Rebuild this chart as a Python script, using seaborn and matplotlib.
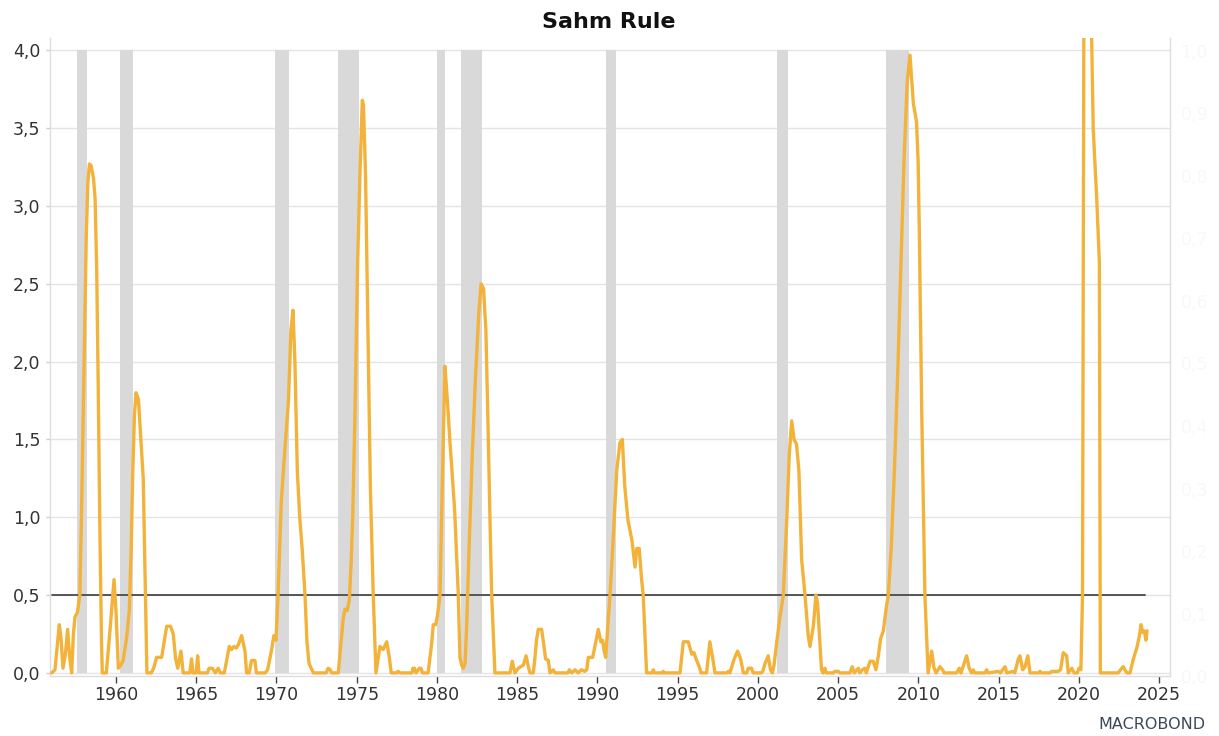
import matplotlib
matplotlib.use("Agg")
import matplotlib.pyplot as plt
import numpy as np
import pandas as pd
import seaborn as sns

# ---------------- data ----------------
years = [
    1956.0, 1956.2, 1956.47, 1956.58, 1956.7, 1956.85, 1956.99, 1957.12, 1957.24, 1957.35,
    1957.45, 1957.6, 1957.75, 1957.85, 1957.95, 1958.05, 1958.15, 1958.25, 1958.35, 1958.45,
    1958.6, 1958.7, 1958.8, 1958.9, 1959.0, 1959.1, 1959.15, 1959.4, 1959.65, 1959.88,
    1960.0, 1960.15, 1960.3, 1960.45, 1960.67, 1960.83, 1960.95, 1961.05, 1961.15, 1961.25,
    1961.4, 1961.55, 1961.7, 1961.8, 1961.93, 1962.2, 1962.35, 1962.53, 1962.85, 1963.16,
    1963.4, 1963.57, 1963.72, 1963.85, 1964.05, 1964.19, 1964.6, 1964.71, 1964.8, 1965.0,
    1965.09, 1965.17, 1965.7, 1965.8, 1966.0, 1966.2, 1966.37, 1966.5, 1966.75, 1967.06,
    1967.2, 1967.35, 1967.5, 1967.62, 1967.83, 1968.04, 1968.14, 1968.3, 1968.45, 1968.66,
    1968.75, 1969.3, 1969.45, 1969.7, 1969.84, 1969.97, 1970.1, 1970.3, 1970.5, 1970.75,
    1970.9, 1971.03, 1971.15, 1971.3, 1971.45, 1971.6, 1971.78, 1971.9, 1972.03, 1972.3,
    1973.1, 1973.22, 1973.35, 1973.44, 1973.85, 1974.16, 1974.27, 1974.41, 1974.54, 1974.65,
    1974.75, 1974.9, 1975.05, 1975.2, 1975.35, 1975.42, 1975.55, 1975.7, 1975.85, 1976.03,
    1976.2, 1976.45, 1976.65, 1976.87, 1977.03, 1977.15, 1977.5, 1977.57, 1977.7, 1978.45,
    1978.5, 1978.6, 1978.7, 1978.9, 1979.0, 1979.1, 1979.45, 1979.67, 1979.77, 1979.92,
    1980.02, 1980.19, 1980.35, 1980.5, 1980.65, 1980.8, 1981.0, 1981.1, 1981.33, 1981.43,
    1981.54, 1981.64, 1981.75, 1981.85, 1981.91, 1982.0, 1982.2, 1982.4, 1982.6, 1982.75,
    1982.9, 1983.05, 1983.2, 1983.3, 1983.41, 1983.61, 1984.55, 1984.69, 1984.86, 1985.07,
    1985.38, 1985.55, 1985.69, 1985.8, 1986.0, 1986.1, 1986.2, 1986.31, 1986.52, 1986.67,
    1986.77, 1986.94, 1987.04, 1987.25, 1987.35, 1988.15, 1988.25, 1988.4, 1988.6, 1988.8,
    1989.0, 1989.2, 1989.33, 1989.43, 1989.7, 1989.84, 1990.05, 1990.21, 1990.32, 1990.42,
    1990.51, 1990.6, 1990.78, 1991.0, 1991.2, 1991.4, 1991.55, 1991.7, 1991.9, 1992.0,
    1992.15, 1992.34, 1992.45, 1992.6, 1992.75, 1992.85, 1993.06, 1993.4, 1993.48, 1993.55,
    1994.05, 1994.1, 1994.15, 1995.14, 1995.35, 1995.66, 1995.87, 1996.01, 1996.18, 1996.34,
    1996.45, 1996.8, 1997.0, 1997.21, 1997.32, 1998.05, 1998.15, 1998.25, 1998.52, 1998.73,
    1998.92, 1999.09, 1999.3, 1999.4, 1999.6, 1999.7, 2000.2, 2000.3, 2000.44, 2000.64,
    2000.78, 2000.9, 2001.0, 2001.16, 2001.37, 2001.58, 2001.8, 2001.95, 2002.1, 2002.25,
    2002.4, 2002.55, 2002.72, 2002.93, 2003.13, 2003.24, 2003.45, 2003.61, 2003.71, 2003.86,
    2003.96, 2004.05, 2004.17, 2004.25, 2004.7, 2004.79, 2005.0, 2005.1, 2005.73, 2005.87,
    2006.0, 2006.25, 2006.35, 2006.5, 2006.66, 2006.75, 2006.98, 2007.18, 2007.35, 2007.5,
    2007.64, 2007.81, 2007.98, 2008.12, 2008.3, 2008.5, 2008.7, 2008.9, 2009.1, 2009.3,
    2009.47, 2009.68, 2009.88, 2009.98, 2010.05, 2010.2, 2010.4, 2010.6, 2010.82, 2010.97,
    2011.1, 2011.34, 2011.5, 2011.6, 2012.38, 2012.54, 2012.65, 2013.0, 2013.16, 2013.3,
    2013.41, 2013.5, 2014.15, 2014.24, 2014.35, 2014.97, 2015.1, 2015.39, 2015.5, 2015.91,
    2016.0, 2016.22, 2016.32, 2016.49, 2016.64, 2016.81, 2016.95, 2017.5, 2017.57, 2017.65,
    2018.2, 2018.3, 2018.7, 2018.85, 2019.02, 2019.23, 2019.33, 2019.55, 2019.7, 2019.9,
    2020.0, 2020.12, 2020.22, 2020.31, 2020.4, 2020.5, 2020.6, 2020.7, 2020.79, 2020.89,
    2021.1, 2021.27, 2021.33, 2022.44, 2022.59, 2022.75, 2022.92, 2023.0, 2023.18, 2023.39,
    2023.6, 2023.77, 2023.86, 2023.98, 2024.07, 2024.17, 2024.24,
]
sahm = [
    0.0, 0.02, 0.31, 0.22, 0.03, 0.12, 0.28, 0.1, 0.0, 0.25,
    0.36, 0.39, 0.5, 1.0, 1.6, 2.2, 2.8, 3.15, 3.27, 3.26,
    3.18, 3.05, 2.6, 1.8, 0.9, 0.2, 0.0, 0.0, 0.3, 0.6,
    0.4, 0.03, 0.05, 0.08, 0.23, 0.4, 0.8, 1.3, 1.65, 1.8,
    1.76, 1.5, 1.25, 0.7, 0.0, 0.0, 0.03, 0.1, 0.1, 0.3,
    0.3, 0.25, 0.09, 0.03, 0.14, 0.0, 0.0, 0.09, 0.0, 0.0,
    0.11, 0.0, 0.0, 0.03, 0.03, 0.0, 0.03, 0.0, 0.0, 0.17,
    0.15, 0.17, 0.16, 0.18, 0.24, 0.14, 0.0, 0.0, 0.08, 0.08,
    0.0, 0.0, 0.02, 0.15, 0.24, 0.21, 0.5, 1.1, 1.4, 1.75,
    2.2, 2.33, 2.0, 1.3, 1.0, 0.8, 0.5, 0.2, 0.06, 0.0,
    0.0, 0.03, 0.02, 0.0, 0.0, 0.35, 0.41, 0.4, 0.47, 0.7,
    1.0, 1.7, 2.6, 3.2, 3.68, 3.65, 3.2, 2.2, 1.2, 0.5,
    0.0, 0.17, 0.15, 0.2, 0.1, 0.0, 0.0, 0.01, 0.0, 0.0,
    0.03, 0.03, 0.0, 0.03, 0.03, 0.0, 0.0, 0.19, 0.31, 0.31,
    0.36, 0.5, 1.3, 1.97, 1.75, 1.5, 1.2, 1.05, 0.5, 0.1,
    0.05, 0.03, 0.06, 0.3, 0.5, 0.8, 1.4, 1.9, 2.3, 2.5,
    2.47, 2.2, 1.5, 1.0, 0.5, 0.0, 0.0, 0.075, 0.0, 0.03,
    0.05, 0.11, 0.04, 0.0, 0.0, 0.09, 0.21, 0.28, 0.28, 0.17,
    0.09, 0.08, 0.0, 0.02, 0.0, 0.0, 0.02, 0.0, 0.02, 0.0,
    0.02, 0.01, 0.02, 0.1, 0.1, 0.17, 0.28, 0.2, 0.21, 0.14,
    0.1, 0.23, 0.5, 0.9, 1.3, 1.48, 1.5, 1.2, 0.98, 0.93,
    0.85, 0.68, 0.8, 0.8, 0.6, 0.5, 0.0, 0.0, 0.02, 0.0,
    0.0, 0.01, 0.0, 0.0, 0.2, 0.2, 0.12, 0.13, 0.08, 0.04,
    0.0, 0.0, 0.2, 0.075, 0.0, 0.0, 0.01, 0.0, 0.09, 0.14,
    0.09, 0.0, 0.0, 0.03, 0.03, 0.0, 0.0, 0.01, 0.06, 0.11,
    0.02, 0.0, 0.05, 0.19, 0.36, 0.5, 1.0, 1.4, 1.62, 1.5,
    1.47, 1.3, 0.73, 0.5, 0.24, 0.17, 0.3, 0.5, 0.45, 0.19,
    0.02, 0.0, 0.03, 0.0, 0.0, 0.01, 0.01, 0.0, 0.0, 0.04,
    0.0, 0.03, 0.0, 0.02, 0.03, 0.0, 0.075, 0.075, 0.02, 0.11,
    0.22, 0.27, 0.41, 0.5, 0.8, 1.3, 1.9, 2.6, 3.3, 3.8,
    3.97, 3.66, 3.54, 3.28, 2.85, 1.7, 0.5, 0.0, 0.14, 0.03,
    0.0, 0.04, 0.02, 0.0, 0.0, 0.03, 0.0, 0.11, 0.03, 0.0,
    0.02, 0.0, 0.0, 0.02, 0.0, 0.01, 0.0, 0.04, 0.0, 0.01,
    0.0, 0.09, 0.11, 0.02, 0.04, 0.11, 0.0, 0.0, 0.01, 0.0,
    0.0, 0.01, 0.01, 0.02, 0.13, 0.11, 0.0, 0.03, 0.0, 0.0,
    0.03, 0.02, 0.5, 4.5, 7.5, 9.4, 7.9, 6.0, 4.07, 3.49,
    3.06, 2.64, 0.0, 0.0, 0.02, 0.04, 0.01, 0.0, 0.0, 0.09,
    0.16, 0.24, 0.31, 0.26, 0.27, 0.21, 0.27,
]

rec_start = [1957.59, 1960.25, 1969.93, 1973.85, 1980.02, 1981.5, 1990.53, 2001.2, 2007.95]
rec_end = [1958.21, 1961.04, 1970.79, 1975.12, 1980.5, 1982.8, 1991.15, 2001.85, 2009.43]

threshold_x = [1956.0, 2024.1]
threshold_y = [0.5, 0.5]

y_ticks = [0.0, 0.5, 1.0, 1.5, 2.0, 2.5, 3.0, 3.5, 4.0]
y_labels = ["0,0", "0,5", "1,0", "1,5", "2,0", "2,5", "3,0", "3,5", "4,0"]
x_ticks = [1960, 1965, 1970, 1975, 1980, 1985, 1990, 1995, 2000, 2005, 2010, 2015, 2020, 2025]
x_labels = [str(v) for v in x_ticks]
right_ticks = [0.0, 0.1, 0.2, 0.3, 0.4, 0.5, 0.6, 0.7, 0.8, 0.9, 1.0]
right_labels = ["0,0", "0,1", "0,2", "0,3", "0,4", "0,5", "0,6", "0,7", "0,8", "0,9", "1,0"]

title = "Sahm Rule"
brand = "MACROBOND"

# ---------------- styling ----------------
line_color = "#f3b23a"
rec_color = "#d9d9d9"
grid_color = "#e4e4e4"
text_color = "#333333"

sns.set_theme(style="white")
plt.rcParams["font.family"] = ["DejaVu Sans"]

fig = plt.figure(figsize=(12.19, 7.36), dpi=100)
ax = fig.add_axes([0.041, 0.0815, 0.9184, 0.8669])

df = pd.DataFrame({"year": years, "sahm": sahm})
thr = pd.DataFrame({"year": threshold_x, "value": threshold_y})

for s, e in zip(rec_start, rec_end):
    ax.fill_between([s, e], 0, 4.0, color=rec_color, lw=0, zorder=1)

sns.lineplot(data=thr, x="year", y="value", color="#555555", lw=1.4, ax=ax,
             zorder=2, sort=False, estimator=None)
sns.lineplot(data=df, x="year", y="sahm", color=line_color, lw=2.4, ax=ax,
             zorder=3, sort=False, estimator=None)

ax.set_xlim(1955.89, 2025.64)
ax.set_ylim(-0.02, 4.08)
ax.set_xlabel("")
ax.set_ylabel("")

ax.yaxis.grid(True, color=grid_color, lw=1)
ax.xaxis.grid(False)
ax.set_axisbelow(True)

ax.set_yticks(y_ticks)
ax.set_yticklabels(y_labels)
ax.set_xticks(x_ticks)
ax.set_xticklabels(x_labels)

ax.tick_params(axis="y", left=True, length=3, width=1, color="#cccccc", pad=4,
               labelsize=12.5, labelcolor=text_color)
ax.tick_params(axis="x", bottom=True, direction="out", length=5, width=1, color="#444444",
               pad=2, labelsize=12.5, labelcolor=text_color)

for side in ["left", "right", "bottom"]:
    ax.spines[side].set_visible(True)
    ax.spines[side].set_color("#dddddd")
    ax.spines[side].set_linewidth(1)
ax.spines["top"].set_visible(False)

# nearly invisible right-hand axis
ax2 = ax.twinx()
ax2.set_ylim(0, 1.0208)
ax2.set_yticks(right_ticks)
ax2.set_yticklabels(right_labels)
ax2.tick_params(axis="y", right=False, length=0, pad=8, labelsize=12.5, labelcolor="#f8f8f8")
ax2.grid(False)
for sp in ax2.spines.values():
    sp.set_visible(False)

fig.text(0.4996, 0.970, title, ha="center", va="center", fontsize=16,
         fontweight="bold", color="#111111")
fig.text(0.945, 0.006, brand, ha="center", va="bottom", fontsize=11.5,
         color="#3b4a5a")

fig.savefig("out.png", dpi=100)
